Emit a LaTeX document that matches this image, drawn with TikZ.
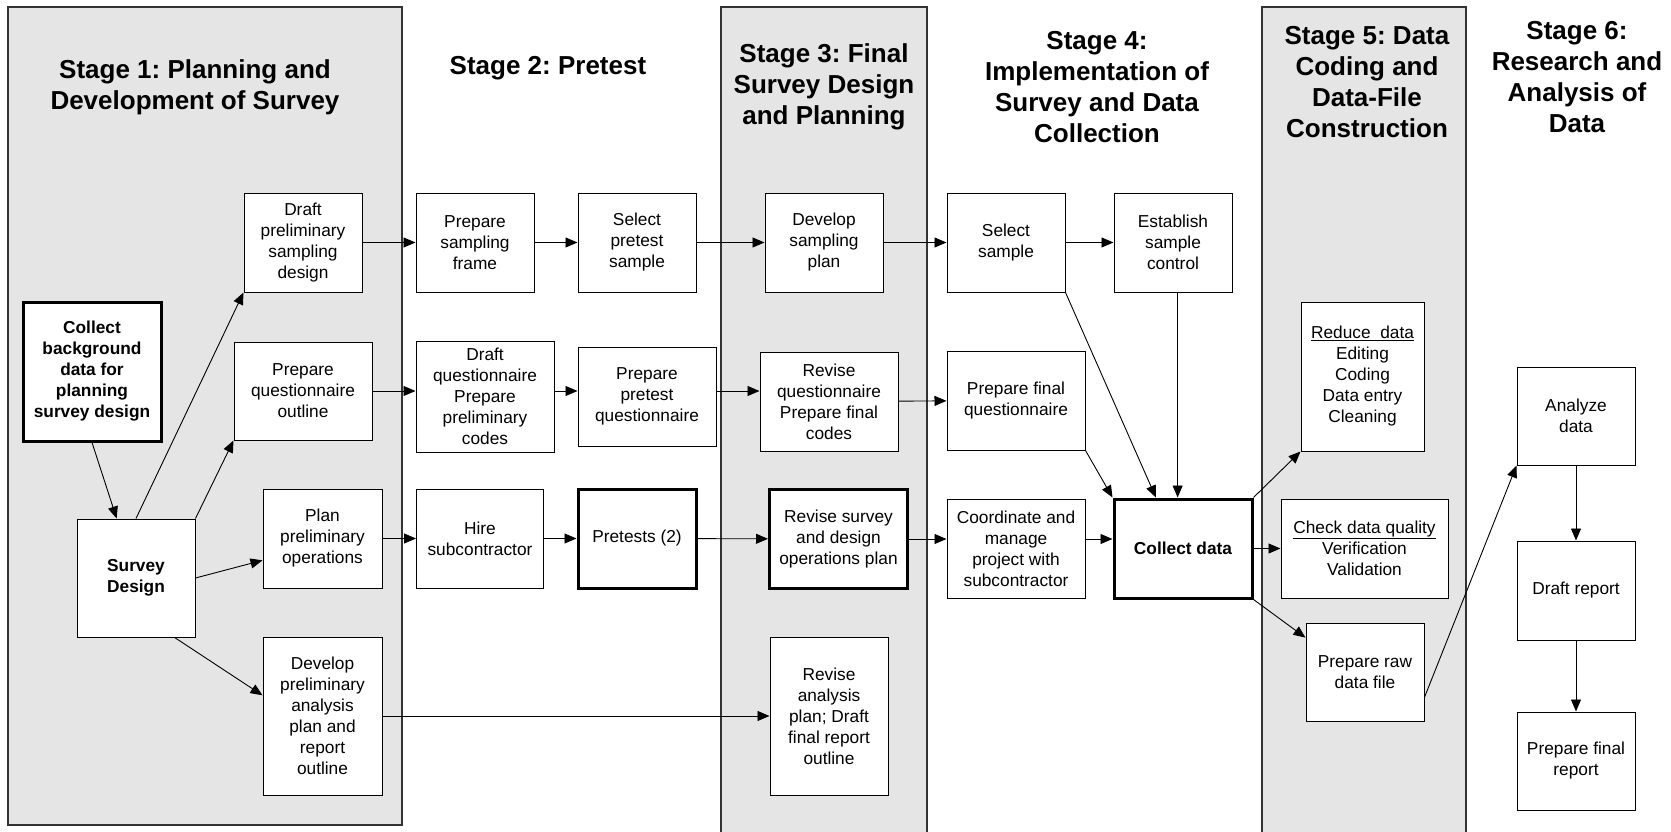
\documentclass[tikz,border=0pt]{standalone}
\usepackage{fontspec}
\setmainfont{Liberation Sans}
\frenchspacing
\usetikzlibrary{shapes,arrows,arrows.meta}
\tikzstyle{block} = [rectangle, draw, fill=white, align=center, line width=1pt, minimum width=118pt, minimum height=99pt, inner sep=2pt, font=\fontsize{17.3}{21}\selectfont]
\tikzstyle{heavy} = [line width=3pt]
\tikzstyle{strong} = [font=\fontsize{17.3}{21}\selectfont\bfseries]
\tikzstyle{title} = [align=center, font=\fontsize{26}{31}\selectfont\bfseries]
\tikzstyle{panel} = [fill=gray!20, draw=black!80, line width=1.5pt]

\begin{document}
\begin{tikzpicture}[x=1pt, y=-1pt, line width=0.9pt, >={Triangle[length=12pt,width=10pt]}]
   \useasboundingbox (0,0) rectangle (1671,832);
   % shaded stages
   \draw[panel] (8,7) rectangle (402,825);
   \draw[panel] (721,840) -- (721,7) -- (927,7) -- (927,840);
   \draw[panel] (1262,840) -- (1262,7) -- (1466,7) -- (1466,840);

   % stage headings
   \node[title] (t1) at (195,87)  {Stage 1: Planning and\\Development of Survey};
   \node[title] (t2) at (548,68)  {Stage 2: Pretest};
   \node[title] (t3) at (824,87)  {Stage 3: Final\\Survey Design\\and Planning};
   \node[title] (t4) at (1097,87) {Stage 4:\\Implementation of\\Survey and Data\\Collection};
   \node[title] (t5) at (1367,82) {Stage 5: Data\\Coding and\\Data-File\\Construction};
   \node[title] (t6) at (1577,77) {Stage 6:\\Research and\\Analysis of\\Data};

   % stage 1
   \node[block, heavy, strong, minimum width=138pt, minimum height=139pt] (cbd) at (92,371.5) {Collect\\background\\data for\\planning\\survey design};
   \node[block, strong, minimum height=118pt] (sd) at (136,578) {Survey\\Design};
   \node[block] (dps) at (303,242.5) {Draft\\preliminary\\sampling\\design};
   \node[block, minimum width=138pt, minimum height=98pt] (pqo) at (303,391) {Prepare\\questionnaire\\outline};
   \node[block, minimum width=119pt] (ppo) at (322.5,538.5) {Plan\\preliminary\\operations};
   \node[block, minimum width=119pt, minimum height=158pt] (dpa) at (322.5,716) {Develop\\preliminary\\analysis\\plan and\\report\\outline};

   % stage 2
   \node[block] (psf) at (475,242.5) {Prepare\\sampling\\frame};
   \node[block] (sps) at (637,242.5) {Select\\pretest\\sample};
   \node[block, minimum width=138pt, minimum height=111pt] (dq) at (485,396.5) {Draft\\questionnaire\\Prepare\\preliminary\\codes};
   \node[block, minimum width=138pt] (ppq) at (647,396.5) {Prepare\\pretest\\questionnaire};
   \node[block, minimum width=127pt] (hs) at (480,538.5) {Hire\\subcontractor};
   \node[block, heavy] (pt) at (637,538.5) {Pretests (2)};

   % stage 3
   \node[block] (dsp) at (824,242.5) {Develop\\sampling\\plan};
   \node[block, minimum width=138pt] (rq) at (829,401.5) {Revise\\questionnaire\\Prepare final\\codes};
   \node[block, heavy, minimum width=138pt] (rsd) at (838.5,539) {Revise survey\\and design\\operations plan};
   \node[block, minimum height=158pt] (rap) at (829,716) {Revise\\analysis\\plan; Draft\\final report\\outline};

   % stage 4
   \node[block] (ss) at (1006,242.5) {Select\\sample};
   \node[block] (esc) at (1173,242.5) {Establish\\sample\\control};
   \node[block, minimum width=138pt] (pfq) at (1016,400.5) {Prepare final\\questionnaire};
   \node[block, minimum width=138pt] (cmp) at (1016,548.5) {Coordinate and\\manage\\project with\\subcontractor};
   \node[block, heavy, strong, minimum width=138pt] (cd) at (1183,548.5) {Collect data};

   % stage 5
   \node[block, minimum width=123pt, minimum height=149pt] (rd) at (1362.5,376.5) {\underline{Reduce\ \ data}\\Editing\\Coding\\Data entry\\Cleaning};
   \node[block, minimum width=167pt] (cdq) at (1364.5,548.5) {\underline{Check data quality}\\Verification\\Validation};
   \node[block, minimum height=98pt] (prd) at (1365,672) {Prepare raw\\data file};

   % stage 6
   \node[block, minimum height=98pt] (ad) at (1576,416) {Analyze\\data};
   \node[block] (dr) at (1576,590.5) {Draft report};
   \node[block, minimum height=98pt] (pfr) at (1576,761) {Prepare final\\report};

   % arrows
   \draw[->] (cbd.south) -- (sd.108);
   \draw[->] (sd.north) -- (dps.south west);
   \draw[->] (sd.north east) -- (pqo.south west);
   \draw[->] (sd.east) -- (ppo.200);
   \draw[->] (sd.303) -- (dpa.161);

   \draw[->] (dps) -- (psf);
   \draw[->] (psf) -- (sps);
   \draw[->] (sps) -- (dsp);
   \draw[->] (dsp) -- (ss);
   \draw[->] (ss) -- (esc);

   \draw[->] (pqo) -- (pqo -| dq.west);
   \draw[->] (dq.east |- pqo) -- (ppq.west |- pqo);
   \draw[->] (ppq.east |- pqo) -- (rq.west |- pqo);
   \draw[->] (rq) -- (pfq);

   \draw[->] (ppo) -- (hs);
   \draw[->] (hs) -- (pt);
   \draw[->] (pt) -- (rsd);
   \draw[->] (rsd) -- (rsd -| cmp.west);
   \draw[->] (cmp.east |- rsd) -- (cd.west |- rsd);

   \draw[->] (dpa) -- (rap);

   \draw[->] (ss.south east) -- (cd.118);
   \draw[->] (cd.96 |- esc.south) -- (cd.96);
   \draw[->] (pfq.south east) -- (cd.north west);
   \draw[->] (cd.north east) -- (rd.south west);
   \draw[->] (cd) -- (cdq);
   \draw[->] (cd.south east) -- (prd.150);

   \draw[->] (prd.337) -- (ad.south west);
   \draw[->] (ad) -- (dr);
   \draw[->] (dr) -- (pfr);
\end{tikzpicture}
\end{document}
